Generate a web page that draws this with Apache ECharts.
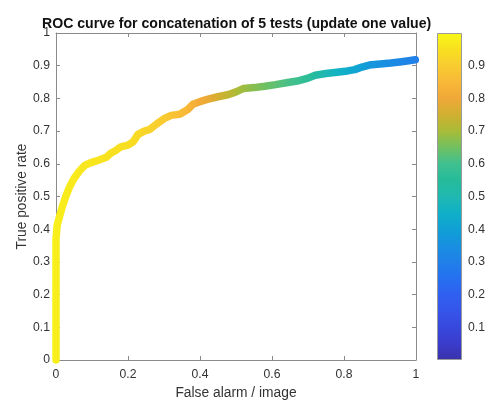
<!DOCTYPE html>
<html>
<head>
<meta charset="utf-8">
<script src="https://cdn.jsdelivr.net/npm/echarts@6/dist/echarts.min.js"></script>
<style>
  html, body { margin: 0; padding: 0; background: #ffffff; }
  #chart { width: 491px; height: 402px; }
</style>
</head>
<body>
<div id="chart"></div>
<script>
// ROC curve: false alarms per image vs. true positive rate, coloured by threshold
const falseAlarm = [0, 0, 0.003, 0.01, 0.018, 0.027, 0.038, 0.05, 0.065, 0.08, 0.095, 0.11, 0.125, 0.14,
  0.152, 0.165, 0.18, 0.2, 0.215, 0.228, 0.245, 0.26, 0.28, 0.3, 0.32, 0.345, 0.365, 0.38, 0.4, 0.42,
  0.45, 0.48, 0.5, 0.52, 0.55, 0.58, 0.61, 0.64, 0.67, 0.7, 0.72, 0.75, 0.78, 0.81, 0.83, 0.85, 0.87,
  0.9, 0.93, 0.96, 0.98, 0.998];
const truePositive = [0, 0.37, 0.41, 0.44, 0.47, 0.5, 0.53, 0.555, 0.578, 0.595, 0.603, 0.608, 0.614, 0.62,
  0.632, 0.64, 0.652, 0.657, 0.668, 0.69, 0.7, 0.705, 0.722, 0.738, 0.748, 0.752, 0.765, 0.782, 0.79, 0.797,
  0.805, 0.812, 0.82, 0.83, 0.833, 0.837, 0.842, 0.848, 0.853, 0.862, 0.871, 0.876, 0.88, 0.884, 0.888, 0.896, 0.902,
  0.905, 0.908, 0.912, 0.915, 0.918];
const threshold = [1.0, 0.99, 0.985, 0.98, 0.98, 0.975, 0.975, 0.97, 0.97, 0.965, 0.965, 0.96, 0.96, 0.955,
  0.955, 0.95, 0.95, 0.945, 0.94, 0.935, 0.925, 0.92, 0.91, 0.9, 0.885, 0.865, 0.85, 0.835, 0.81, 0.795,
  0.76, 0.73, 0.71, 0.69, 0.67, 0.65, 0.63, 0.61, 0.59, 0.56, 0.53, 0.49, 0.46, 0.43, 0.41, 0.39, 0.37,
  0.35, 0.33, 0.315, 0.305, 0.295];

const axisTicks = [0, 0.2, 0.4, 0.6, 0.8, 1];
const colorbarTicks = [0.1, 0.2, 0.3, 0.4, 0.5, 0.6, 0.7, 0.8, 0.9];

// parula-like colormap used by the colorbar and the curve
const cmap = [
  [0.00, [58, 50, 168]], [0.05, [58, 60, 204]], [0.10, [56, 72, 221]], [0.15, [53, 85, 234]],
  [0.20, [48, 96, 240]], [0.25, [37, 112, 240]], [0.30, [32, 128, 232]], [0.35, [24, 144, 224]],
  [0.40, [16, 160, 213]], [0.45, [16, 176, 200]], [0.50, [32, 184, 176]], [0.55, [37, 188, 154]],
  [0.60, [64, 192, 144]], [0.65, [112, 192, 96]], [0.70, [168, 188, 56]], [0.75, [208, 176, 48]],
  [0.80, [240, 168, 56]], [0.85, [248, 184, 56]], [0.90, [248, 204, 48]], [0.95, [248, 224, 32]],
  [1.00, [248, 248, 24]]
];
function colorAt(v) {
  v = Math.max(0, Math.min(1, v));
  for (let i = 1; i < cmap.length; i++) {
    if (v <= cmap[i][0]) {
      const a = cmap[i - 1], b = cmap[i];
      const t = (v - a[0]) / (b[0] - a[0]);
      const c = a[1].map((x, k) => Math.round(x + (b[1][k] - x) * t));
      return 'rgb(' + c.join(',') + ')';
    }
  }
  return 'rgb(' + cmap[cmap.length - 1][1].join(',') + ')';
}

const points = falseAlarm.map((x, i) => [x, truePositive[i], threshold[i]]);
const lineStops = falseAlarm.map((x, i) => ({ offset: x, color: colorAt(threshold[i]) }));
const barStops = cmap.map(s => ({ offset: s[0], color: colorAt(s[0]) }));

const FONT = 'Liberation Sans, Arial, Helvetica, sans-serif';
const AXIS = '#8a8a8a';
const TEXT = '#333333';

const chart = echarts.init(document.getElementById('chart'), null, { renderer: 'canvas' });

// mirrored axes that close the box on the top and right sides
const boxAxis = (pos, interval) => ({
  type: 'value', gridIndex: 0, position: pos, min: 0, max: 1, interval: interval,
  axisLine: { show: true, onZero: false, lineStyle: { color: AXIS, width: 1 } },
  axisTick: { show: true, inside: true, length: 4, lineStyle: { color: AXIS } },
  axisLabel: { show: false },
  splitLine: { show: false }
});

chart.setOption({
  animation: false,
  backgroundColor: '#ffffff',
  title: {
    text: 'ROC curve for concatenation of 5 tests (update one value)',
    left: 37, top: 12,
    textStyle: { fontFamily: FONT, fontSize: 14.1, fontWeight: 'bold', color: '#111111' }
  },
  grid: [
    { left: 56, right: 75, top: 33, bottom: 42, containLabel: false, outerBoundsMode: 'none' },
    { left: 437, width: 25, top: 33, bottom: 42, containLabel: false, outerBoundsMode: 'none' }
  ],
  xAxis: [
    {
      type: 'value', gridIndex: 0, min: 0, max: 1, interval: 0.2,
      name: 'False alarm / image', nameLocation: 'middle', nameGap: 26, nameMoveOverlap: false,
      nameTextStyle: { fontFamily: FONT, fontSize: 13.8, color: TEXT },
      axisLine: { show: true, onZero: false, lineStyle: { color: AXIS, width: 1 } },
      axisTick: { show: true, inside: true, length: 4, lineStyle: { color: AXIS } },
      axisLabel: {
        margin: 9, fontFamily: FONT, fontSize: 12.2, color: TEXT,
        formatter: v => axisTicks.some(t => Math.abs(t - v) < 1e-9) ? String(+v.toFixed(1)) : ''
      },
      splitLine: { show: false }
    },
    boxAxis('top', 0.2),
    { type: 'category', gridIndex: 1, data: [''], show: false }
  ],
  yAxis: [
    {
      type: 'value', gridIndex: 0, min: 0, max: 1, interval: 0.1,
      name: 'True positive rate', nameLocation: 'middle', nameGap: 27, nameRotate: 90, nameMoveOverlap: false,
      nameTextStyle: { fontFamily: FONT, fontSize: 13.8, color: TEXT },
      axisLine: { show: true, onZero: false, lineStyle: { color: AXIS, width: 1 } },
      axisTick: { show: true, inside: true, length: 4, lineStyle: { color: AXIS } },
      axisLabel: {
        margin: 6, fontFamily: FONT, fontSize: 12.2, color: TEXT,
        formatter: v => String(+v.toFixed(1))
      },
      splitLine: { show: false }
    },
    boxAxis('right', 0.1),
    {
      type: 'value', gridIndex: 1, position: 'right', min: 0, max: 1, interval: 0.1,
      axisLine: { show: false },
      axisTick: { show: true, inside: true, length: 3, customValues: colorbarTicks, lineStyle: { color: '#555555' } },
      axisLabel: {
        margin: 6, fontFamily: FONT, fontSize: 12.2, color: TEXT, customValues: colorbarTicks,
        formatter: v => String(+v.toFixed(1))
      },
      splitLine: { show: false }
    }
  ],
  series: [
    {
      type: 'line', xAxisIndex: 0, yAxisIndex: 0, data: points,
      showSymbol: false, clip: false, smooth: false,
      lineStyle: {
        width: 7.5, cap: 'round', join: 'round',
        color: new echarts.graphic.LinearGradient(0, 0, 1, 0, lineStops)
      },
      z: 3
    },
    {
      type: 'bar', xAxisIndex: 2, yAxisIndex: 2, data: [1], barWidth: '100%',
      itemStyle: {
        color: new echarts.graphic.LinearGradient(0, 1, 0, 0, barStops),
        borderColor: '#9a9a9a', borderWidth: 1
      },
      silent: true, z: 1
    }
  ]
});
</script>
</body>
</html>
